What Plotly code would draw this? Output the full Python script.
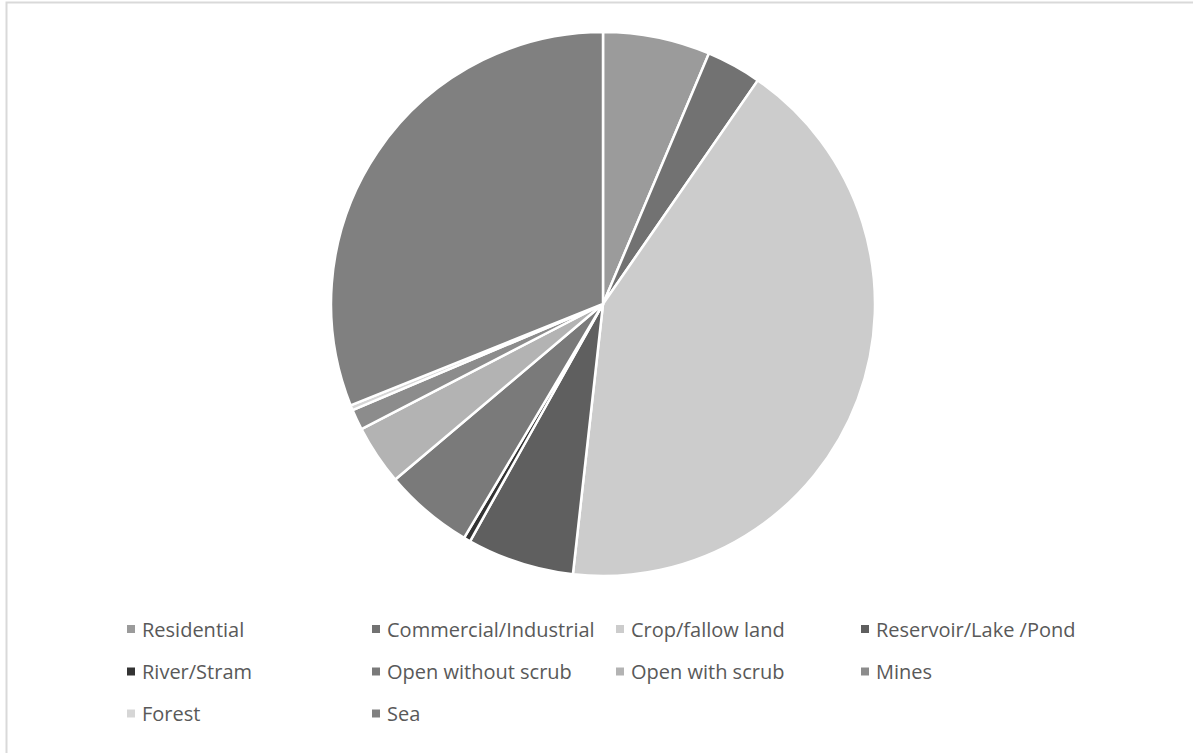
import plotly.graph_objects as go

labels = ["Residential", "Commercial/Industrial", "Crop/fallow land", "Reservoir/Lake /Pond",
          "River/Stram", "Open without scrub", "Open with scrub", "Mines", "Forest", "Sea"]
values = [6.36, 3.27, 42.1, 6.36, 0.4, 5.3, 3.56, 1.22, 0.3, 31.06]
colors = ["#9b9b9b", "#727272", "#cccccc", "#5f5f5f", "#333333",
          "#7a7a7a", "#b3b3b3", "#8c8c8c", "#d6d6d6", "#808080"]

W, H = 1193, 753
cx, cy, r = 603, 304, 272

fig = go.Figure(go.Pie(
    labels=labels, values=values, sort=False, direction="clockwise", rotation=0,
    marker=dict(colors=colors, line=dict(color="white", width=2.5)),
    textinfo="none", showlegend=False, hoverinfo="label+percent",
    domain=dict(x=[(cx - r) / W, (cx + r) / W], y=[1 - (cy + r) / H, 1 - (cy - r) / H]),
))

# manual legend grid (4 columns)
text_x = [142, 387, 631, 876]
row_y = [629, 671.5, 713.5]
shapes = []
annotations = []
for i, (lab, col) in enumerate(zip(labels, colors)):
    c, rr = i % 4, i // 4
    tx, yc = text_x[c], row_y[rr]
    shapes.append(dict(type="rect", xref="paper", yref="paper",
                       x0=(tx - 15) / W, x1=(tx - 7) / W, y0=1 - (yc + 4) / H, y1=1 - (yc - 4) / H,
                       fillcolor=col, line=dict(width=0)))
    annotations.append(dict(text=lab, xref="paper", yref="paper", x=(tx - 2) / W, y=1 - yc / H,
                            xanchor="left", yanchor="middle", showarrow=False,
                            font=dict(family="Open Sans, sans-serif", size=20, color="#595959")))

# chart area border (only left and top edges are visible)
shapes.append(dict(type="rect", xref="paper", yref="paper", x0=6.5 / W, x1=1.2,
                   y0=-0.2, y1=1 - 2.5 / H, line=dict(color="#d9d9d9", width=2),
                   fillcolor="rgba(0,0,0,0)", layer="below"))

fig.update_layout(width=W, height=H, margin=dict(l=0, r=0, t=0, b=0),
                  paper_bgcolor="white", plot_bgcolor="white",
                  shapes=shapes, annotations=annotations)

fig.write_html("out.html", config={"displayModeBar": False},
               post_script="document.body.style.margin='0';")
